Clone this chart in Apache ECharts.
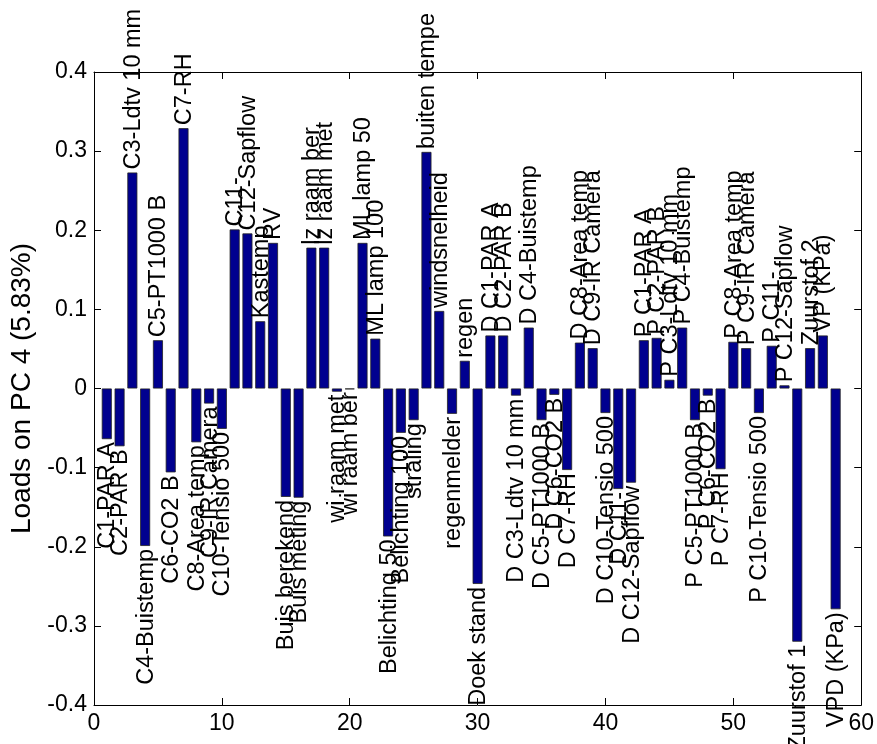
<!DOCTYPE html>
<html><head><meta charset="utf-8">
<script src="https://cdn.jsdelivr.net/npm/echarts@6/dist/echarts.min.js"></script>
<style>html,body{margin:0;padding:0;background:#fff}#c{width:877px;height:744px}</style>
</head><body><div id="c"></div>
<script>
const labels = [
  'C1-PAR A','C2-PAR B','C3-Ldtv 10 mm','C4-Buistemp','C5-PT1000 B','C6-CO2 B','C7-RH','C8-Area temp','C9-IR Camera','C10-Tensio 500',
  'C11-','C12-Sapflow','Kastemp','RV','Buis berekend','Buis meting','lz raam ber','lz raam met','wi raam met','wi raam ber',
  'ML lamp 50','ML lamp 100','Belichting 50','Belichting 100','straling','buiten tempe','windsnelheid','regenmelder','regen','Doek stand',
  'D C1-PAR A','D C2-PAR B','D C3-Ldtv 10 mm','D C4-Buistemp','D C5-PT1000 B','D C6-CO2 B','D C7-RH','D C8-Area temp','D C9-IR Camera','D C10-Tensio 500',
  'D C11-','D C12-Sapflow','P C1-PAR A','P C2-PAR B','P C3-Ldtv 10 mm','P C4-Buistemp','P C5-PT1000 B','P C6-CO2 B','P C7-RH','P C8-Area temp',
  'P C9-IR Camera','P C10-Tensio 500','P C11-','P C12-Sapflow','Zuurstof 1','Zuurstof 2','VP (KPa)','VPD (KPa)'
];
const loads = [
  -0.064,-0.073,0.273,-0.199,0.061,-0.106,0.329,-0.068,-0.019,-0.051,
  0.201,0.196,0.085,0.184,-0.137,-0.138,0.178,0.178,-0.004,-0.001,
  0.184,0.063,-0.187,-0.056,-0.040,0.299,0.098,-0.032,0.035,-0.247,
  0.067,0.067,-0.009,0.077,-0.040,-0.008,-0.103,0.058,0.051,-0.031,
  -0.127,-0.119,0.061,0.064,0.011,0.077,-0.040,-0.009,-0.102,0.059,
  0.051,-0.031,0.054,0.004,-0.320,0.051,0.067,-0.279
];
const xMin = 0, xMax = 60, xStep = 10;
const yMin = -0.4, yMax = 0.4, yStep = 0.1;
const yTitle = 'Loads on PC 4 (5.83%)';

const FONT = 'Arial, "Liberation Sans", Helvetica, sans-serif';
const FS_TICK = 23;
const FS_LAB = 23.5;
const FS_NAME = 28;
const chart = echarts.init(document.getElementById('c'), null, {renderer: 'canvas'});
const barData = loads.map((v, i) => [i + 1, v]);

const axisLine = {show: true, onZero: false, lineStyle: {color: '#000', width: 1}};
const tick = {show: true, inside: true, length: 7, lineStyle: {color: '#000', width: 1}};
function yFmt(v) { return Math.abs(v) < 1e-9 ? '0' : v.toFixed(1); }

const option = {
  animation: false,
  backgroundColor: '#fff',
  grid: {left: 94, right: 15, top: 72, bottom: 39, containLabel: false},
  xAxis: [
    {type: 'value', min: xMin, max: xMax, interval: xStep, position: 'bottom',
     axisLine: axisLine, axisTick: tick, splitLine: {show: false},
     axisLabel: {color: '#000', fontSize: FS_TICK, fontFamily: FONT, margin: 7}},
    {type: 'value', min: xMin, max: xMax, interval: xStep, position: 'top',
     axisLine: axisLine, axisTick: tick, splitLine: {show: false}, axisLabel: {show: false}}
  ],
  yAxis: [
    {type: 'value', min: yMin, max: yMax, interval: yStep, position: 'left',
     axisLine: axisLine, axisTick: tick, splitLine: {show: false},
     axisLabel: {color: '#000', fontSize: FS_TICK, fontFamily: FONT, margin: 7, formatter: yFmt},
     name: yTitle, nameLocation: 'middle', nameRotate: 90, nameGap: 58,
     nameTextStyle: {color: '#000', fontSize: FS_NAME, fontFamily: FONT}},
    {type: 'value', min: yMin, max: yMax, interval: yStep, position: 'right',
     axisLine: axisLine, axisTick: tick, splitLine: {show: false}, axisLabel: {show: false}}
  ],
  series: [
    {type: 'bar', xAxisIndex: 0, yAxisIndex: 0, data: barData, barWidth: 10,
     itemStyle: {color: '#00008F', borderColor: '#222', borderWidth: 0.8}},
    {type: 'custom', xAxisIndex: 0, yAxisIndex: 0, data: barData, clip: false, z: 10,
     renderItem: function (params, api) {
       const x = api.value(0), v = api.value(1);
       const p = api.coord([x, v]);
       const neg = v < 0;
       return {
         type: 'text', x: p[0] + 1, y: neg ? p[1] + 3 : p[1] - 3, rotation: Math.PI / 2,
         style: {text: labels[params.dataIndex], fontSize: FS_LAB, fontFamily: FONT, fill: '#000',
                 align: neg ? 'right' : 'left', verticalAlign: 'middle'}
       };
     }}
  ]
};
chart.setOption(option);
</script></body></html>
